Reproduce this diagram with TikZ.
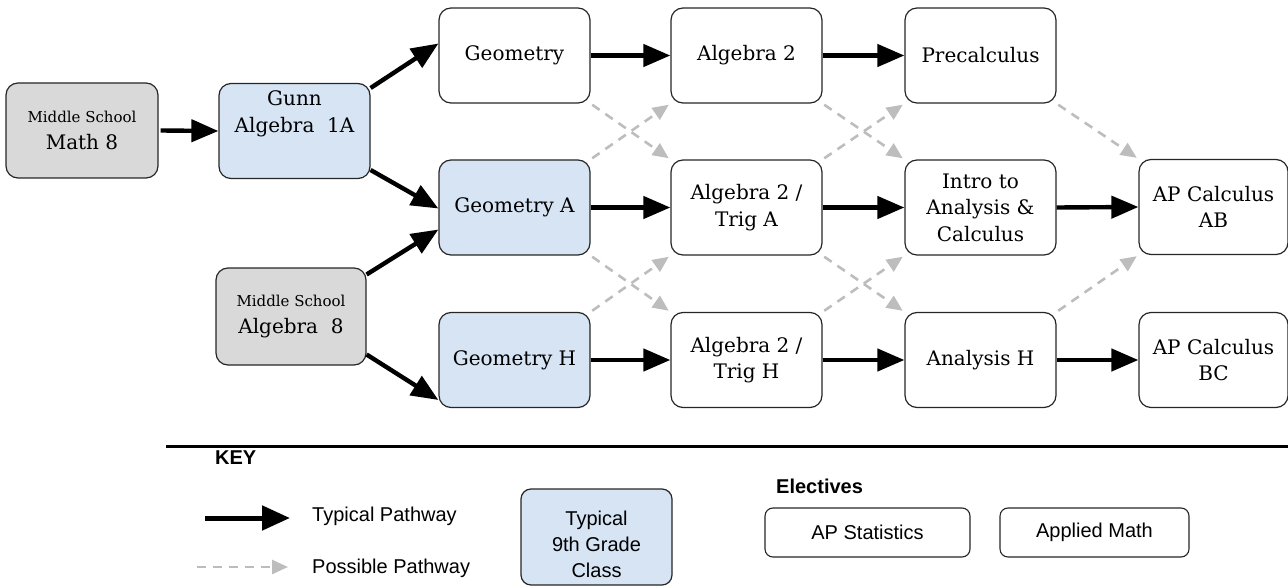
\documentclass[tikz,border=0pt]{standalone}
\usepackage{fontspec}
\setmainfont{DejaVu Serif}
\newfontfamily\keyfont{Liberation Sans}
\usetikzlibrary{arrows.meta}
\definecolor{boxblue}{HTML}{D6E4F4}
\definecolor{boxgray}{HTML}{D9D9D9}
\definecolor{dashgray}{HTML}{BDBDBD}
\tikzset{
  course/.style={draw=black!85, line width=1.2pt, rounded corners=12pt, fill=white,
    minimum width=151pt, minimum height=95pt, align=center, inner sep=2pt,
    font=\fontsize{20}{26.5}\selectfont},
  bluecourse/.style={course, fill=boxblue},
  graycourse/.style={course, fill=boxgray},
  typical/.style={line width=4.4pt, -{Triangle[length=27pt,width=22pt]}},
  possible/.style={dashgray, line width=2.6pt, dash pattern=on 9pt off 7pt,
    -{Triangle[length=16pt,width=14pt]}, shorten >=2pt, shorten <=2pt},
  elective/.style={draw=black!85, line width=1.1pt, rounded corners=8pt, fill=white,
    minimum height=49pt, font=\keyfont\fontsize{20}{24}\selectfont},
  keytext/.style={font=\keyfont\fontsize{20}{24}\selectfont, anchor=west, inner sep=0pt}
}
\begin{document}
\begin{tikzpicture}[x=1pt,y=-1pt]
\useasboundingbox (0,0) rectangle (1288,588);
% nodes
\node[graycourse, minimum width=152pt] (m8) at (82,130.5) {{\fontsize{15}{20}\selectfont Middle School}\\Math 8};
\node[bluecourse] (gunn) at (294.5,131) {Gunn\\Algebra\ \ 1A\\[12pt]\mbox{}};
\node[graycourse, minimum width=150pt, minimum height=97pt] (a8) at (291,316.5) {{\fontsize{15}{20}\selectfont Middle School}\\Algebra\ \ 8};
\node[course] (geo) at (514.5,55.5) {Geometry};
\node[bluecourse] (geoa) at (514.5,207.5) {Geometry A};
\node[bluecourse] (geoh) at (514.5,360) {Geometry H};
\node[course] (alg2) at (746.5,55.5) {Algebra 2};
\node[course] (triga) at (746.5,207.5) {Algebra 2 /\\Trig A};
\node[course] (trigh) at (746.5,360) {Algebra 2 /\\Trig H};
\node[course] (pre) at (980.5,55.5) {Precalculus};
\node[course] (intro) at (980.5,207.5) {Intro to\\Analysis \&\\Calculus};
\node[course] (anh) at (980.5,360) {Analysis H};
\node[course, minimum width=149pt] (ab) at (1213.5,207) {AP Calculus\\AB};
\node[course, minimum width=149pt] (bc) at (1213.5,360) {AP Calculus\\BC};
% typical pathways
\draw[typical] (m8.east) ++(2,0) -- (gunn.west);
\draw[typical] ([yshift=43pt]gunn.east) -- ([yshift=12pt]geo.west);
\draw[typical] ([yshift=-39pt]gunn.east) -- ([yshift=-1pt]geoa.west);
\draw[typical] ([yshift=42pt]a8.east) -- ([yshift=-22pt]geoa.west);
\draw[typical] ([yshift=-38pt]a8.east) -- ([yshift=-40pt]geoh.west);
\draw[typical] (geo.east) -- (alg2.west);
\draw[typical] (geoa.east) -- (triga.west);
\draw[typical] (geoh.east) -- (trigh.west);
\draw[typical] (alg2.east) -- (pre.west);
\draw[typical] (triga.east) -- (intro.west);
\draw[typical] (trigh.east) -- (anh.west);
\draw[typical] (intro.east) -- (ab.west);
\draw[typical] (anh.east) -- (bc.west);
% possible pathways
\draw[possible] (geo.south east) -- (triga.north west);
\draw[possible] (geoa.north east) -- (alg2.south west);
\draw[possible] (geoa.south east) -- (trigh.north west);
\draw[possible] (geoh.north east) -- (triga.south west);
\draw[possible] (alg2.south east) -- (intro.north west);
\draw[possible] (triga.north east) -- (pre.south west);
\draw[possible] (triga.south east) -- (anh.north west);
\draw[possible] (trigh.north east) -- (intro.south west);
\draw[possible] (pre.south east) -- (ab.north west);
\draw[possible] (anh.north east) -- (ab.south west);
% separator
\coordinate (sepL) at (166,446);
\coordinate (sepR) at (1288,446);
\draw[line width=3pt] (sepL) -- (sepR);
% key
\node[keytext, font=\keyfont\bfseries\fontsize{20}{24}\selectfont] (key) at (215,458) {KEY};
\node[keytext] (tp) at (312,516) {Typical Pathway};
\node[keytext] (pp) at (312,568) {Possible Pathway};
\coordinate (tpS) at (205,518);
\coordinate (ppS) at (197,567);
\draw[typical, line width=5pt, -{Triangle[length=28pt,width=24pt]}] (tpS) -- ([xshift=-22pt,yshift=-2pt]tp.west);
\draw[possible, shorten <=0pt] (ppS) -- ([xshift=-22pt,yshift=1pt]pp.west);
\node[course, fill=boxblue, rounded corners=10pt, minimum width=151pt, minimum height=96pt,
  font=\keyfont\fontsize{20}{26}\selectfont] (ninth) at (596.5,537) {\rule{0pt}{30pt}Typical\\9th Grade\\Class};
\node[keytext, font=\keyfont\bfseries\fontsize{20}{24}\selectfont] (elec) at (776,486) {Electives};
\node[elective, minimum width=205pt] (apstat) at (867.5,532.5) {AP Statistics};
\node[elective, minimum width=189pt] (appl) at (1094.5,532.5) {Applied Math};
\end{tikzpicture}
\end{document}
